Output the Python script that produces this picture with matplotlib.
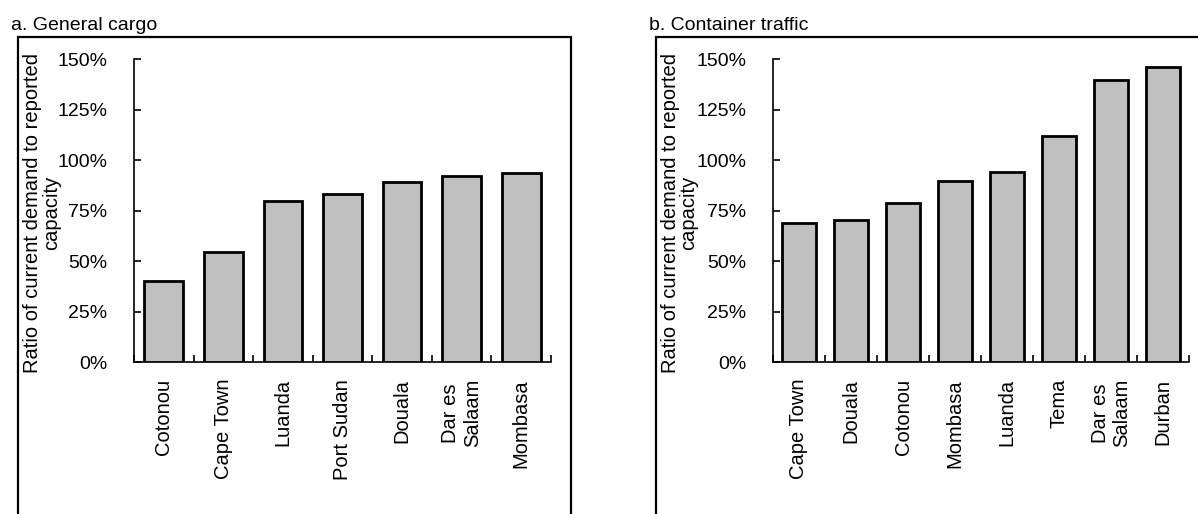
import matplotlib.pyplot as plt
from matplotlib.patches import Rectangle
from matplotlib.ticker import PercentFormatter
import numpy as np

plt.rcParams['font.family'] = ['Liberation Sans', 'DejaVu Sans']

# data
ports_a = ['Cotonou', 'Cape Town', 'Luanda', 'Port Sudan', 'Douala', 'Dar es\nSalaam', 'Mombasa']
ratio_a = [0.40, 0.545, 0.797, 0.83, 0.89, 0.923, 0.934]

ports_b = ['Cape Town', 'Douala', 'Cotonou', 'Mombasa', 'Luanda', 'Tema', 'Dar es\nSalaam', 'Durban']
ratio_b = [0.69, 0.703, 0.787, 0.899, 0.942, 1.12, 1.398, 1.46]

titles = ['a. General cargo', 'b. Container traffic']
ylabel = 'Ratio of current demand to reported\ncapacity'
yticks = [0, 0.25, 0.5, 0.75, 1.0, 1.25, 1.5]

W, H = 1198, 514
fig = plt.figure(figsize=(W / 100, H / 100), dpi=100)

# pixel layout: (frame left, frame right, title x, axes left, axes right)
layout = [(18, 571, 11, 134, 551), (656, 1230, 649, 773, 1189)]
ax_top, ax_bottom = 59, 362.3
frame_top = 36.7

for (frame_l, frame_r, title_x, ax_l, ax_r), title, ports, vals in zip(
        layout, titles, [ports_a, ports_b], [ratio_a, ratio_b]):
    ax = fig.add_axes([ax_l / W, 1 - ax_bottom / H, (ax_r - ax_l) / W, (ax_bottom - ax_top) / H])
    n = len(ports)
    x = np.arange(n)
    ax.bar(x, vals, width=0.65, color='#c0c0c0', edgecolor='black', linewidth=2, zorder=3)

    ax.set_xlim(-0.5, n - 0.5)
    ax.set_ylim(0, 1.5)
    ax.set_yticks(yticks)
    ax.yaxis.set_major_formatter(PercentFormatter(1.0, decimals=0))

    # boundary ticks (unlabelled) + labels at bar centres
    ax.set_xticks(np.arange(n + 1) - 0.5)
    ax.set_xticklabels([])
    ax.set_xticks(x, minor=True)
    ax.set_xticklabels(ports, minor=True, rotation=90, fontsize=14.5, va='top', ha='center')
    ax.tick_params(axis='x', which='minor', length=0, pad=12)
    ax.tick_params(axis='x', which='major', direction='in', length=5, width=1.2)
    ax.tick_params(axis='y', direction='in', length=5, width=1.2, labelsize=14, pad=19)

    for s in ['top', 'right']:
        ax.spines[s].set_visible(False)
    for s in ['left', 'bottom']:
        ax.spines[s].set_linewidth(1.2)

    # outer frame running off the bottom (and right) of the picture
    fig.patches.append(Rectangle((frame_l / W, -0.2), (frame_r - frame_l) / W,
                                 1 - frame_top / H + 0.2,
                                 transform=fig.transFigure, fill=False,
                                 edgecolor='black', linewidth=1.6, clip_on=False))
    fig.text(title_x / W, 1 - 30 / H, title, fontsize=14, va='baseline', ha='left')
    fig.text((frame_l + 24) / W, 1 - 213 / H, ylabel, rotation=90, fontsize=14.5,
             ha='center', va='center', linespacing=0.95)

fig.savefig('out.png', dpi=100)
